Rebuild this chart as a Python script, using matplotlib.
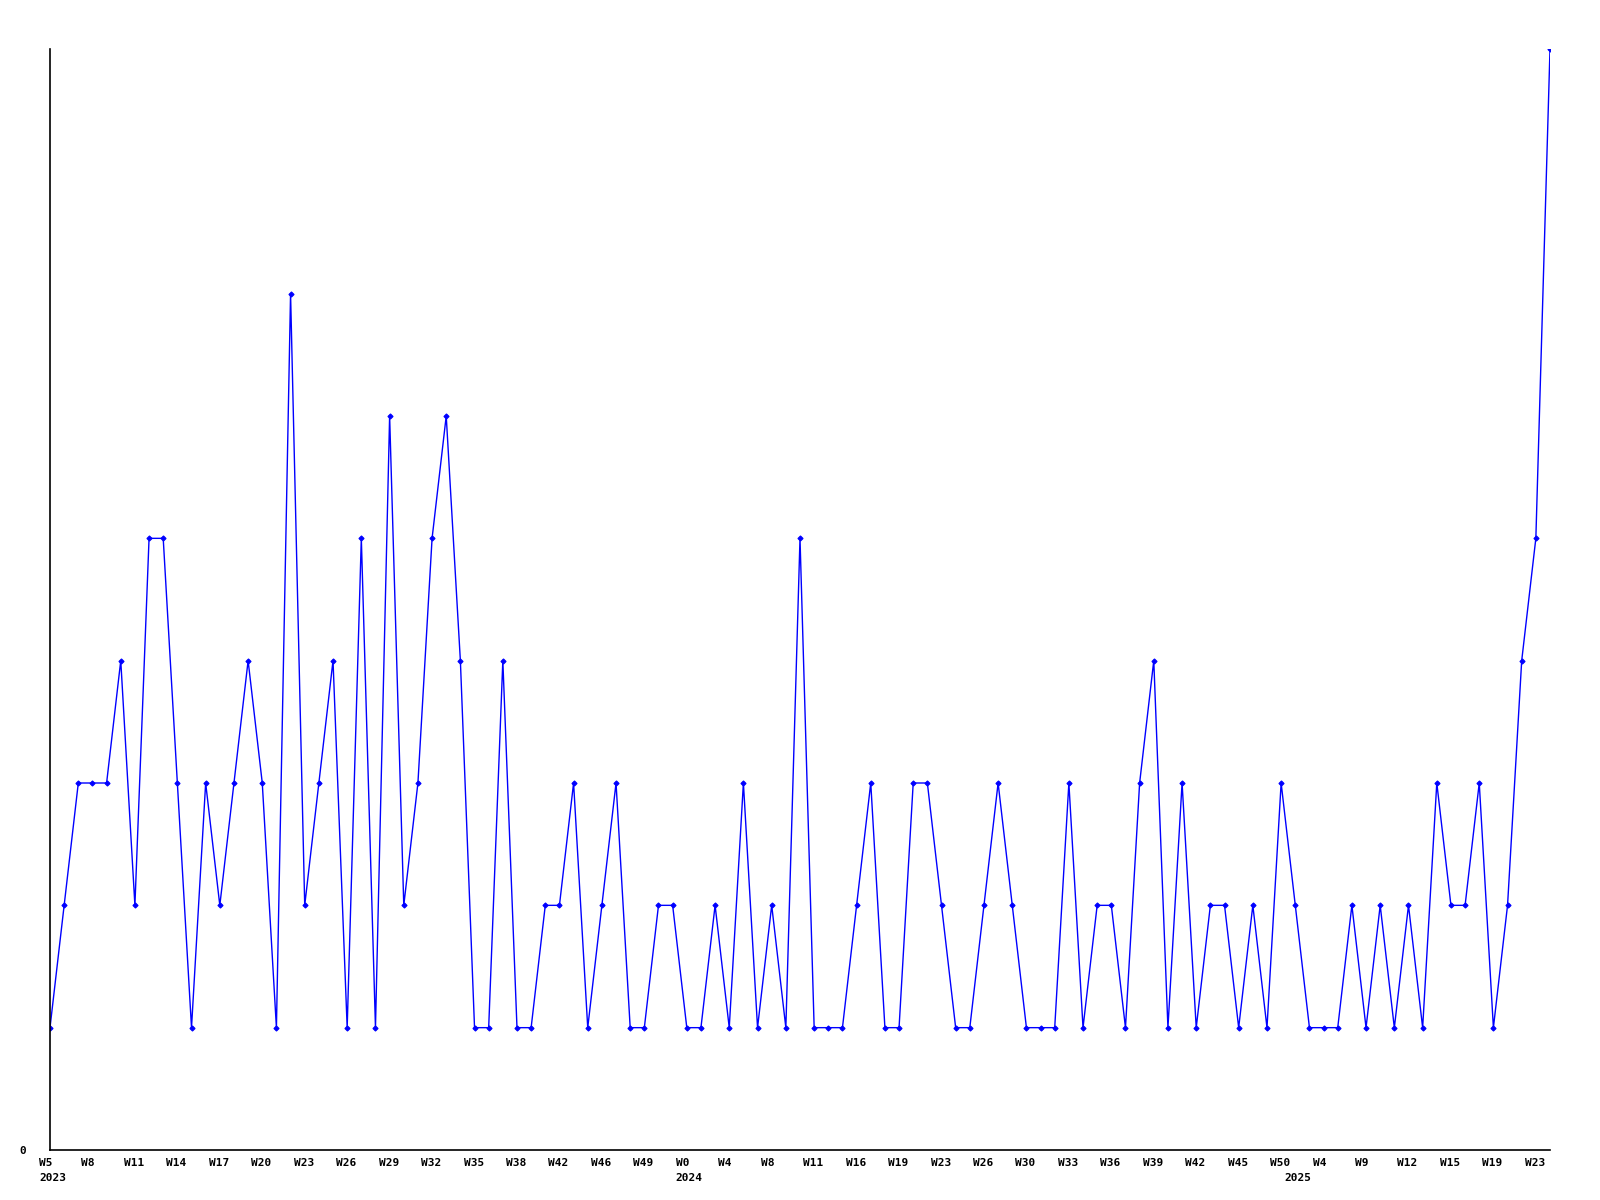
import matplotlib.pyplot as plt
import matplotlib.transforms as mtransforms

# weekly counts, one point per week shown
values = [1, 2, 3, 3, 3, 4, 2, 5, 5, 3,
          1, 3, 2, 3, 4, 3, 1, 7, 2, 3,
          4, 1, 5, 1, 6, 2, 3, 5, 6, 4,
          1, 1, 4, 1, 1, 2, 2, 3, 1, 2,
          3, 1, 1, 2, 2, 1, 1, 2, 1, 3,
          1, 2, 1, 5, 1, 1, 1, 2, 3, 1,
          1, 3, 3, 2, 1, 1, 2, 3, 2, 1,
          1, 1, 3, 1, 2, 2, 1, 3, 4, 1,
          3, 1, 2, 2, 1, 2, 1, 3, 2, 1,
          1, 1, 2, 1, 2, 1, 2, 1, 3, 2,
          2, 3, 1, 2, 4, 5, 9]

# labels every third point
week_labels = ['W5', 'W8', 'W11', 'W14', 'W17', 'W20', 'W23', 'W26', 'W29', 'W32',
               'W35', 'W38', 'W42', 'W46', 'W49',
               'W0', 'W4', 'W8', 'W11', 'W16', 'W19', 'W23', 'W26', 'W30', 'W33',
               'W36', 'W39', 'W42', 'W45', 'W50',
               'W4', 'W9', 'W12', 'W15', 'W19', 'W23']
# first point of each year
year_pos = [0, 45, 88]
years = ['2023', '2024', '2025']

x = list(range(len(values)))

fig = plt.figure(figsize=(16, 12), dpi=100)
ax = fig.add_axes([0.03125, 1 - 1150 / 1200, 0.9375, (1150 - 49) / 1200])

ax.plot(x, values, color='#0000ff', linewidth=1, marker='D', markersize=2.6,
        markeredgewidth=0.8)

ax.set_xlim(0, len(values) - 1)
ax.set_ylim(0, max(values))

for s in ['top', 'right']:
    ax.spines[s].set_visible(False)
ax.spines['left'].set_linewidth(1.2)
ax.spines['bottom'].set_linewidth(1.2)

font = dict(family='DejaVu Sans Mono', weight='bold', size=8)

ax.set_yticks([0])
ax.set_yticklabels(['0'], **font)
ax.tick_params(axis='y', length=0, pad=17)

ticks = list(range(0, len(values), 3))
ax.set_xticks(ticks)
ax.set_xticklabels(week_labels, **font)
ax.tick_params(axis='x', length=0, pad=6)

offset = mtransforms.ScaledTranslation(-11 / 100, 0, fig.dpi_scale_trans)
for lab in ax.get_xticklabels():
    lab.set_horizontalalignment('left')
    lab.set_transform(lab.get_transform() + offset)

# year labels under the week labels
ytrans = mtransforms.blended_transform_factory(ax.transData, ax.transAxes) + offset
for p, yr in zip(year_pos, years):
    ax.text(p, -0.0205, yr, transform=ytrans, ha='left', va='top', **font)

fig.savefig('out.png', dpi=100)
